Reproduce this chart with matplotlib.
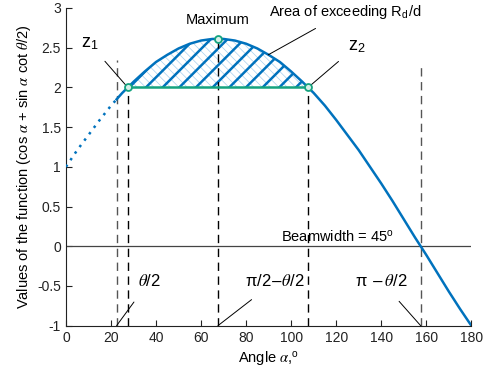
import matplotlib
matplotlib.use("Agg")
import matplotlib.pyplot as plt

plt.rcParams['font.family'] = ['Liberation Sans', 'DejaVu Sans']
plt.rcParams['mathtext.fontset'] = 'stix'

# ---- data ----
dotted_angles = [0, 5, 10, 15, 20, 22.5]
dotted_values = [1.00, 1.21, 1.40, 1.59, 1.77, 1.85]

solid_angles = [22.5, 25, 30, 35, 40, 45, 50, 55, 60, 65, 70, 75, 80, 85, 90,
                95, 100, 105, 110, 115, 120, 125, 130, 135, 140, 145, 150,
                155, 160, 165, 170, 175, 180]
solid_values = [1.85, 1.93, 2.07, 2.20, 2.32, 2.41, 2.49, 2.55, 2.59, 2.61, 2.61,
                2.59, 2.55, 2.49, 2.41, 2.32, 2.20, 2.07, 1.93, 1.77, 1.59,
                1.40, 1.21, 1.00, 0.79, 0.57, 0.34, 0.11, -0.11, -0.34, -0.57,
                -0.79, -1.00]

z_angles = [27.45, 107.55]
z_value = 2.0
max_angle = 67.5
max_value = 2.61
half_beam = 22.5
zero_cross = 157.5

blue = '#0072BD'
green = '#14a37f'

fig = plt.figure(figsize=(4.92, 3.80), dpi=100)
ax = fig.add_axes([0.134, 0.143, 0.824, 0.836])

# hatched area
reg_x = [z_angles[0]] + [a for a in solid_angles if z_angles[0] < a < z_angles[1]] + [z_angles[1]]
reg_y = [z_value] + [v for a, v in zip(solid_angles, solid_values) if z_angles[0] < a < z_angles[1]] + [z_value]
with plt.rc_context({'hatch.linewidth': 0.5}):
    ax.fill_between(reg_x, z_value, reg_y, facecolor='none', edgecolor='#a8d0ee',
                    hatch='\\\\\\\\', linewidth=0, zorder=1)
with plt.rc_context({'hatch.linewidth': 1.8}):
    ax.fill_between(reg_x, z_value, reg_y, facecolor='none', edgecolor=blue,
                    hatch='//', linewidth=0, zorder=1)

# vertical dashed lines
ax.plot([half_beam, half_beam], [-1, 2.35], ls=(0, (6, 4)), color='#555555', lw=1.0, zorder=2)
ax.plot([zero_cross, zero_cross], [-1, 2.30], ls=(0, (6, 4)), color='#555555', lw=1.0, zorder=2)
ax.plot([z_angles[0], z_angles[0]], [-1, z_value], ls=(0, (6, 4)), color='black', lw=1.0, zorder=2)
ax.plot([z_angles[1], z_angles[1]], [-1, z_value], ls=(0, (6, 4)), color='black', lw=1.0, zorder=2)
ax.plot([max_angle, max_angle], [-1, max_value], ls=(0, (6, 4)), color='black', lw=1.0, zorder=2)

# zero line
ax.axhline(0, color='#444444', lw=0.9, zorder=2)

# curves
ax.plot(dotted_angles, dotted_values, ls=(0, (1, 2.2)), color=blue, lw=1.8, zorder=3)
ax.plot(solid_angles, solid_values, color=blue, lw=1.8, zorder=3)
ax.plot(z_angles, [z_value, z_value], color=green, lw=1.8, zorder=4)
ax.plot(z_angles + [max_angle], [z_value, z_value, max_value], ls='none', marker='o',
        ms=5, mfc='#d8efe8', mec=green, mew=1.3, zorder=5)

# annotations
fs = 10.5
ax.text(max_angle, 2.85, 'Maximum', ha='center', va='center', fontsize=fs)
ax.annotate('Area of exceeding R$_\\mathregular{d}$/d', xy=(89.8, 2.41), xytext=(124, 2.95),
            ha='center', va='center', fontsize=fs,
            arrowprops=dict(arrowstyle='-', color='black', lw=0.7, shrinkA=7, shrinkB=0))
ax.annotate('z$_\\mathregular{1}$', xy=(z_angles[0], z_value), xytext=(10.5, 2.55),
            ha='center', va='center', fontsize=13,
            arrowprops=dict(arrowstyle='-', color='black', lw=0.7, shrinkA=6, shrinkB=2))
ax.annotate('z$_\\mathregular{2}$', xy=(z_angles[1], z_value), xytext=(129, 2.52),
            ha='center', va='center', fontsize=13,
            arrowprops=dict(arrowstyle='-', color='black', lw=0.7, shrinkA=6, shrinkB=2))
ax.text(120.5, 0.11, 'Beamwidth = 45$^\\mathregular{o}$', ha='center', va='center', fontsize=fs)

ax.annotate(r'$\theta$/2', xy=(half_beam, -1), xytext=(37, -0.44),
            ha='center', va='center', fontsize=12,
            arrowprops=dict(arrowstyle='-', color='black', lw=0.7, shrinkA=9, shrinkB=0))
ax.annotate(r'π/2$-\theta$/2', xy=(max_angle, -1), xytext=(93, -0.44),
            ha='center', va='center', fontsize=12,
            arrowprops=dict(arrowstyle='-', color='black', lw=0.7, shrinkA=9, shrinkB=0))
ax.annotate(r'π $-\,\theta$/2', xy=(zero_cross, -1), xytext=(140, -0.44),
            ha='center', va='center', fontsize=12,
            arrowprops=dict(arrowstyle='-', color='black', lw=0.7, shrinkA=9, shrinkB=0))

ax.set_xlim(0, 180)
ax.set_ylim(-1, 3)
ax.set_xticks(range(0, 181, 20))
ax.set_yticks([-1, -0.5, 0, 0.5, 1, 1.5, 2, 2.5, 3])
ax.set_yticklabels(['-1', '-0.5', '0', '0.5', '1', '1.5', '2', '2.5', '3'])
ax.tick_params(direction='in', labelsize=10, length=4, width=0.8, colors='#222222')
for s in ['top', 'right']:
    ax.spines[s].set_visible(False)
for s in ['left', 'bottom']:
    ax.spines[s].set_linewidth(0.8)
    ax.spines[s].set_color('#222222')

ax.set_xlabel(r'Angle $\alpha$,$^\mathregular{o}$', fontsize=10.5)
ax.set_ylabel(r'Values of the function (cos $\alpha$ + sin $\alpha$ cot $\theta$/2)', fontsize=10.5, labelpad=3)

fig.savefig('out.png', dpi=100)
